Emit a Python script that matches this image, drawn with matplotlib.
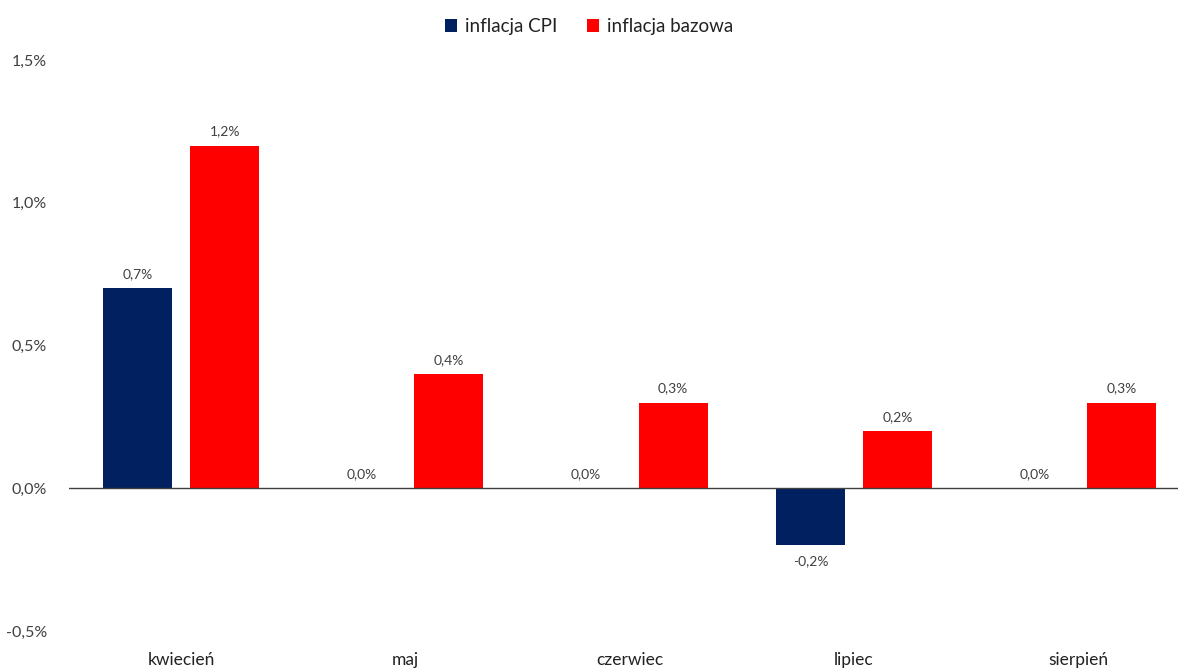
import numpy as np
import matplotlib.pyplot as plt
from matplotlib.ticker import FuncFormatter

months = ["kwiecień", "maj", "czerwiec", "lipiec", "sierpień"]
cpi = [0.7, 0.0, 0.0, -0.2, 0.0]
core = [1.2, 0.4, 0.3, 0.2, 0.3]
yticks = [-0.5, 0.0, 0.5, 1.0, 1.5]

navy = "#002060"
red = "#FF0000"
plt.rcParams["font.family"] = ["Lato", "DejaVu Sans"]

fig = plt.figure(figsize=(11.78, 6.68), dpi=100)
ax = fig.add_axes([69 / 1178, 1 - 631 / 668, 1 - 69 / 1178, (631 - 60) / 668])

x = np.arange(len(months))
w = 0.308
off = 0.194
b1 = ax.bar(x - off, cpi, w, color=navy, label="inflacja CPI")
b2 = ax.bar(x + off, core, w, color=red, label="inflacja bazowa")

def pct(v):
    return f"{v:.1f}%".replace(".", ",")

for bars, vals in [(b1, cpi), (b2, core)]:
    for bar, v in zip(bars, vals):
        cx = bar.get_x() + bar.get_width() / 2
        if v < 0:
            ax.annotate(pct(v), (cx, v), xytext=(0, -7), textcoords="offset points",
                        ha="center", va="top", fontsize=10, color="#404040")
        else:
            ax.annotate(pct(v), (cx, v), xytext=(0, 6), textcoords="offset points",
                        ha="center", va="bottom", fontsize=10, color="#404040")

ax.axhline(0, color="#404040", lw=1)
ax.set_xlim(-0.5, 4.445)
ax.set_ylim(-0.5, 1.5)
ax.set_yticks(yticks)
ax.yaxis.set_major_formatter(FuncFormatter(lambda v, p: pct(v)))
ax.set_xticks(x)
ax.set_xticklabels(months)
ax.tick_params(axis="y", length=0, labelsize=11.5, labelcolor="#404040", pad=16)
ax.tick_params(axis="x", length=0, labelsize=12.5, labelcolor="#222222", pad=15)
for s in ax.spines.values():
    s.set_visible(False)

fig.legend(handles=[b1, b2], loc="upper center", bbox_to_anchor=(0.5, 0.998), ncol=2,
           frameon=False, fontsize=13.5, handlelength=0.65, handleheight=0.65,
           handletextpad=0.4, columnspacing=1.6, labelcolor="#222222")

fig.savefig("out.png", dpi=100)
